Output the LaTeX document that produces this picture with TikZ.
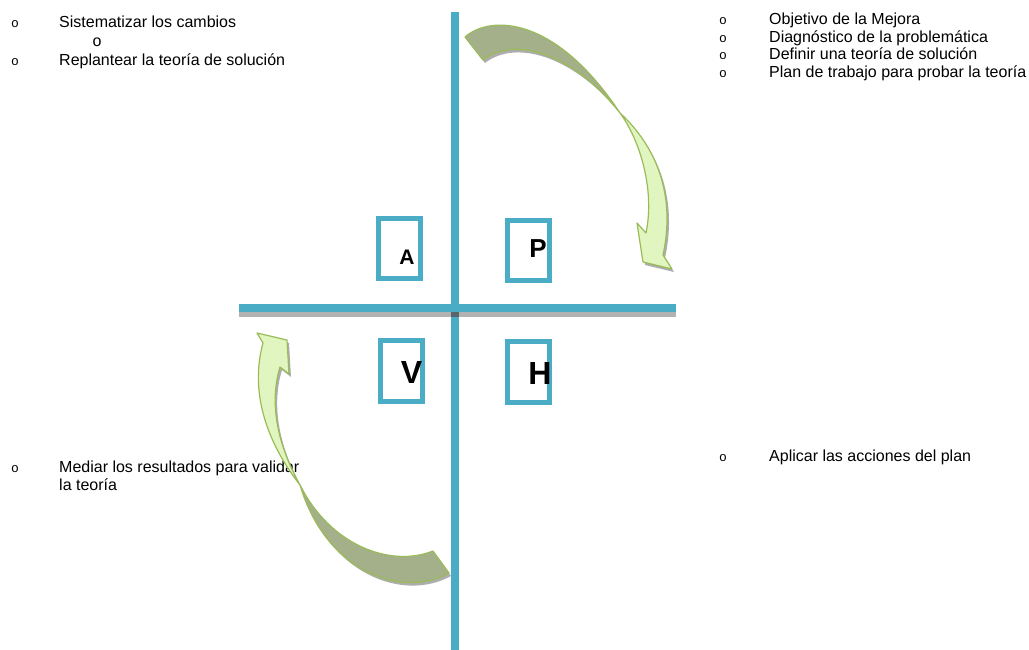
\documentclass[tikz,border=0pt]{standalone}
\usepackage{fontspec}
\setmainfont{Liberation Sans}
\newfontfamily\bulfont{Liberation Mono}
\definecolor{pdcablue}{HTML}{4BACC6}
\definecolor{arrgreen}{HTML}{9BBB59}
\definecolor{arrdark}{HTML}{A4B08A}
\definecolor{arrlight}{HTML}{E0F5BF}
\definecolor{shadowgray}{HTML}{999999}
\begin{document}
\begin{tikzpicture}[x=1pt,y=-1pt,
  txt/.style={anchor=base west,inner sep=0pt,font=\fontsize{16}{18}\selectfont},
  bul/.style={anchor=base,inner sep=0pt,font=\bulfont\fontsize{13}{15}\selectfont},
  qbox/.style={draw=pdcablue,line width=5pt,fill=white,minimum width=42pt,minimum height=60pt,inner sep=0pt},
  letter/.style={inner sep=0pt,font=\bfseries\fontsize{#1}{#1}\selectfont},
  axis/.style={draw=pdcablue,line width=8pt},
  arrline/.style={draw=arrgreen,line width=1.2pt,line join=round},
  arrshadow/.style={fill=shadowgray,opacity=0.8}
]
\useasboundingbox (0,0) rectangle (1029,650);
\fill[white] (0,0) rectangle (1029,650);

% axes
\coordinate (vtop) at (455,12);
\coordinate (vbot) at (455,650);
\coordinate (hleft) at (239,308);
\coordinate (hright) at (676,308);
\draw[axis] (vtop) -- (vbot);
\fill[shadowgray,opacity=0.75] (239,312) rectangle (676,317);
\fill[black,opacity=0.35] (451,312) rectangle (459,317);
\draw[axis] (hleft) -- (hright);

% boxes
\node[qbox] (boxA) at (399,248.5) {};
\node[qbox] (boxP) at (528.5,250.5) {};
\node[qbox,minimum height=61pt] (boxV) at (401.5,371) {};
\node[qbox,minimum height=61pt] (boxH) at (528.5,372) {};
\node[letter=21] (lA) at (407,257.5) {A};
\node[letter=26] (lP) at (538,249) {P};
\node[letter=32] (lV) at (411.5,372) {V};
\node[letter=32] (lH) at (540,373) {H};

% texts top-left
\node[bul] (b1) at (15,28) {o};
\node[txt] (t1) at (59,28) {Sistematizar los cambios};
\node[txt] (t1o) at (92.5,47) {o};
\node[bul] (b2) at (15,66) {o};
\node[txt] (t2) at (59,66) {Replantear la teoría de solución};

% texts top-right
\node[bul] (b3) at (723,25) {o};
\node[txt] (t3) at (769,25) {Objetivo de la Mejora};
\node[bul] (b4) at (723,42.5) {o};
\node[txt] (t4) at (769,42.5) {Diagnóstico de la problemática};
\node[bul] (b5) at (723,60) {o};
\node[txt] (t5) at (769,60) {Definir una teoría de solución};
\node[bul] (b6) at (723,77.5) {o};
\node[txt] (t6) at (769,77.5) {Plan de trabajo para probar la teoría};

% texts bottom
\node[bul] (b7) at (15,472) {o};
\node[txt] (t7) at (59,472) {Mediar los resultados para validar};
\node[txt] (t8) at (59,490) {la teoría};
\node[bul] (b8) at (723,461) {o};
\node[txt] (t9) at (769,461) {Aplicar las acciones del plan};

% top-right curved arrow
\begin{scope}[shift={(2,3)}]
\fill[arrshadow] (465,37) .. controls (490,15) and (555,15) .. (620,113)
   .. controls (575,55) and (515,35) .. (483,60) -- cycle;
\fill[arrshadow] (620,113) .. controls (640,140) and (655,190) .. (646,233)
   -- (637,223) -- (643,262) -- (672,269) -- (663,255)
   .. controls (675,200) and (660,150) .. (620,113) -- cycle;
\end{scope}
\path[arrline,fill=arrdark] (465,37) .. controls (490,15) and (555,15) .. (620,113)
   .. controls (575,55) and (515,35) .. (483,60) -- cycle;
\path[arrline,fill=arrlight] (620,113) .. controls (640,140) and (655,190) .. (646,233)
   -- (637,223) -- (643,262) -- (672,269) -- (663,255)
   .. controls (675,200) and (660,150) .. (620,113) -- cycle;

% bottom-left curved arrow
\begin{scope}[shift={(2,3)}]
\fill[arrshadow] (300,485) .. controls (330,545) and (390,568) .. (433,551)
   -- (449,573) .. controls (400,600) and (325,570) .. (300,485) -- cycle;
\fill[arrshadow] (300,485) .. controls (265,440) and (250,390) .. (263,343)
   -- (257,333) -- (287,340) -- (289,374) -- (280,367)
   .. controls (270,400) and (275,440) .. (300,485) -- cycle;
\end{scope}
\path[arrline,fill=arrdark] (300,485) .. controls (330,545) and (390,568) .. (433,551)
   -- (449,573) .. controls (400,600) and (325,570) .. (300,485) -- cycle;
\path[arrline,fill=arrlight] (300,485) .. controls (265,440) and (250,390) .. (263,343)
   -- (257,333) -- (287,340) -- (289,374) -- (280,367)
   .. controls (270,400) and (275,440) .. (300,485) -- cycle;
\end{tikzpicture}
\end{document}
